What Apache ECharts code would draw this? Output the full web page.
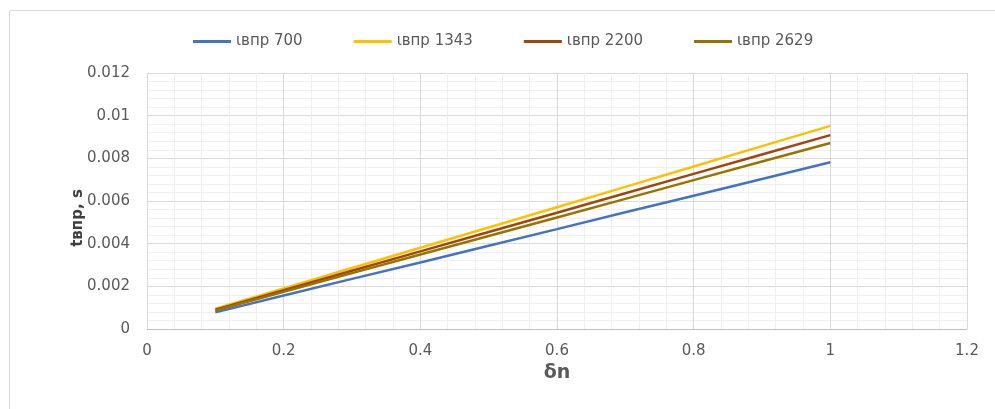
<!DOCTYPE html>
<html>
<head>
<meta charset="utf-8">
<script src="https://cdn.jsdelivr.net/npm/echarts@6/dist/echarts.min.js"></script>
<style>
  html, body { margin: 0; padding: 0; background: #fff; }
  #chart { width: 995px; height: 409px; }
</style>
</head>
<body>
<div id="chart"></div>
<script>
// δn values (x axis)
const dn = [0.1, 0.2, 0.3, 0.4, 0.5, 0.6, 0.7, 0.8, 0.9, 1.0];

// tвпр, s for each series
const t700  = [0.00078, 0.00157, 0.00235, 0.00312, 0.00390, 0.00468, 0.00547, 0.00625, 0.00703, 0.00782];
const t1343 = [0.00095, 0.00190, 0.00286, 0.00381, 0.00476, 0.00571, 0.00666, 0.00762, 0.00857, 0.00952];
const t2200 = [0.00091, 0.00182, 0.00273, 0.00364, 0.00455, 0.00545, 0.00636, 0.00727, 0.00818, 0.00909];
const t2629 = [0.00087, 0.00174, 0.00262, 0.00349, 0.00436, 0.00523, 0.00610, 0.00698, 0.00785, 0.00872];

const seriesNames = ["ɩвпр 700", "ɩвпр 1343", "ɩвпр 2200", "ɩвпр 2629"];
const seriesValues = [t700, t1343, t2200, t2629];
const colors = ["#4472C4", "#FFC000", "#9E480E", "#997300"];

const chart = echarts.init(document.getElementById("chart"));

const font = "'DejaVu Sans', sans-serif";

chart.setOption({
  animation: false,
  textStyle: { fontFamily: font },
  graphic: [
    {
      type: "rect",
      shape: { x: 9.5, y: 10.5, width: 1000, height: 420 },
      style: { fill: null, stroke: "#d9d9d9", lineWidth: 1 },
      silent: true
    },
    {
      // y axis title, sits a bit below the plot's middle like in the original
      type: "text",
      x: 78, y: 218,
      rotation: Math.PI / 2,
      style: {
        text: "tвпр, s",
        fill: "#404040",
        font: "bold 15px 'DejaVu Sans', sans-serif",
        align: "center",
        verticalAlign: "middle"
      },
      silent: true
    }
  ],
  legend: {
    top: 29,
    left: 188,
    itemWidth: 38,
    itemHeight: 3,
    itemGap: 51,
    icon: "rect",
    textStyle: { color: "#595959", fontSize: 15, fontFamily: font },
    data: seriesNames
  },
  grid: { left: 147, right: 28, top: 73, bottom: 80 },
  xAxis: {
    type: "value",
    min: 0, max: 1.2, interval: 0.2,
    name: "δn",
    nameLocation: "middle",
    nameGap: 34,
    nameTextStyle: { color: "#595959", fontSize: 19, fontWeight: "bold", fontFamily: font },
    axisLine: { show: true, lineStyle: { color: "#bfbfbf" } },
    axisTick: { show: false },
    axisLabel: { color: "#595959", fontSize: 15, margin: 15 },
    splitLine: { show: true, lineStyle: { color: "#d9d9d9" } },
    minorTick: { show: false, splitNumber: 5 },
    minorSplitLine: { show: true, lineStyle: { color: "#efefef" } }
  },
  yAxis: {
    type: "value",
    min: 0, max: 0.012, interval: 0.002,
    axisLine: { show: false },
    axisTick: { show: false },
    axisLabel: { color: "#595959", fontSize: 15, margin: 17 },
    splitLine: { show: true, lineStyle: { color: "#d9d9d9" } },
    minorTick: { show: false, splitNumber: 5 },
    minorSplitLine: { show: true, lineStyle: { color: "#efefef" } }
  },
  series: seriesNames.map((name, i) => ({
    name: name,
    type: "line",
    data: dn.map((x, j) => [x, seriesValues[i][j]]),
    showSymbol: false,
    lineStyle: { width: 2.5, color: colors[i] },
    itemStyle: { color: colors[i] }
  }))
});
</script>
</body>
</html>
